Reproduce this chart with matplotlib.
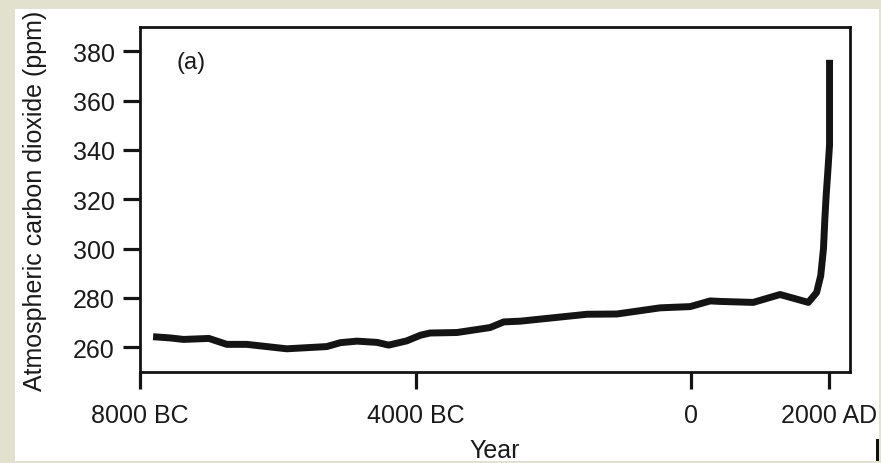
import matplotlib
matplotlib.use("Agg")
import matplotlib.pyplot as plt
from matplotlib.patches import Rectangle

# CO2 record (year, ppm); negative years are BC
years = [-7810, -7560, -7370, -7000, -6740, -6450, -5870, -5290, -5090, -4850,
         -4560, -4390, -4130, -3930, -3790, -3400, -2920, -2720, -2480, -1510,
         -1080, -450, -15, 276, 420, 900, 1290, 1700, 1820, 1880, 1920, 1940,
         1960, 1985, 2008, 2008]
co2 = [264.3, 263.8, 263.2, 263.6, 261.2, 261.2, 259.4, 260.3, 261.9, 262.5,
       262.0, 260.9, 262.6, 264.9, 265.8, 266.0, 268.0, 270.3, 270.6, 273.4,
       273.5, 276.0, 276.5, 278.8, 278.6, 278.2, 281.4, 278.2, 282.2, 289.0,
       300.0, 312.0, 322.0, 332.0, 342.0, 376.5]

xticks = [-8000, -4000, 0, 2000]
xtick_labels = ['8000 BC', '4000 BC', '0', '2000 AD']
yticks = [260, 280, 300, 320, 340, 360, 380]

plt.rcParams['font.family'] = ['Liberation Sans', 'DejaVu Sans']
txt = '#1a1a1a'

W, H = 881, 464
fig = plt.figure(figsize=(W / 100, H / 100), dpi=100, facecolor='#e2e1cd')

# white card behind the plot
fig.patches.append(Rectangle((15 / W, 2 / H), (879 - 15) / W, (454 - 2) / H,
                             transform=fig.transFigure, facecolor='white',
                             edgecolor='none', zorder=0))
fig.patches.append(Rectangle((876 / W, 2 / H), 3 / W, 22 / H,
                             transform=fig.transFigure, facecolor='#111111',
                             edgecolor='none', zorder=1))

ax = fig.add_axes([140 / W, (H - 373) / H, (850 - 140) / W, (373 - 28) / H])
ax.set_zorder(5)
ax.set_facecolor('white')

ax.plot(years, co2, color='#141414', lw=5, solid_capstyle='butt',
        solid_joinstyle='round')

ax.set_xlim(-8000, 2305)
ax.set_ylim(250, 389.8)
ax.set_xticks(xticks)
ax.set_xticklabels(xtick_labels)
ax.set_yticks(yticks)

for s in ax.spines.values():
    s.set_linewidth(2.0)
    s.set_color('#141414')

ax.tick_params(axis='both', direction='out', length=12, width=2.3,
               color='#141414', labelsize=18, labelcolor=txt)
ax.tick_params(axis='x', pad=10)
ax.tick_params(axis='y', pad=6)

ax.set_xlabel('Year', fontsize=18, color=txt, labelpad=8)
ax.set_ylabel('Atmospheric carbon dioxide (ppm)', fontsize=18, color=txt,
              labelpad=19)

ax.text((177 - 140) / 710, 1 - (63 - 28) / 345, '(a)', transform=ax.transAxes,
        fontsize=17, color=txt, ha='left', va='center')

fig.savefig('out.png', dpi=100, facecolor=fig.get_facecolor())
